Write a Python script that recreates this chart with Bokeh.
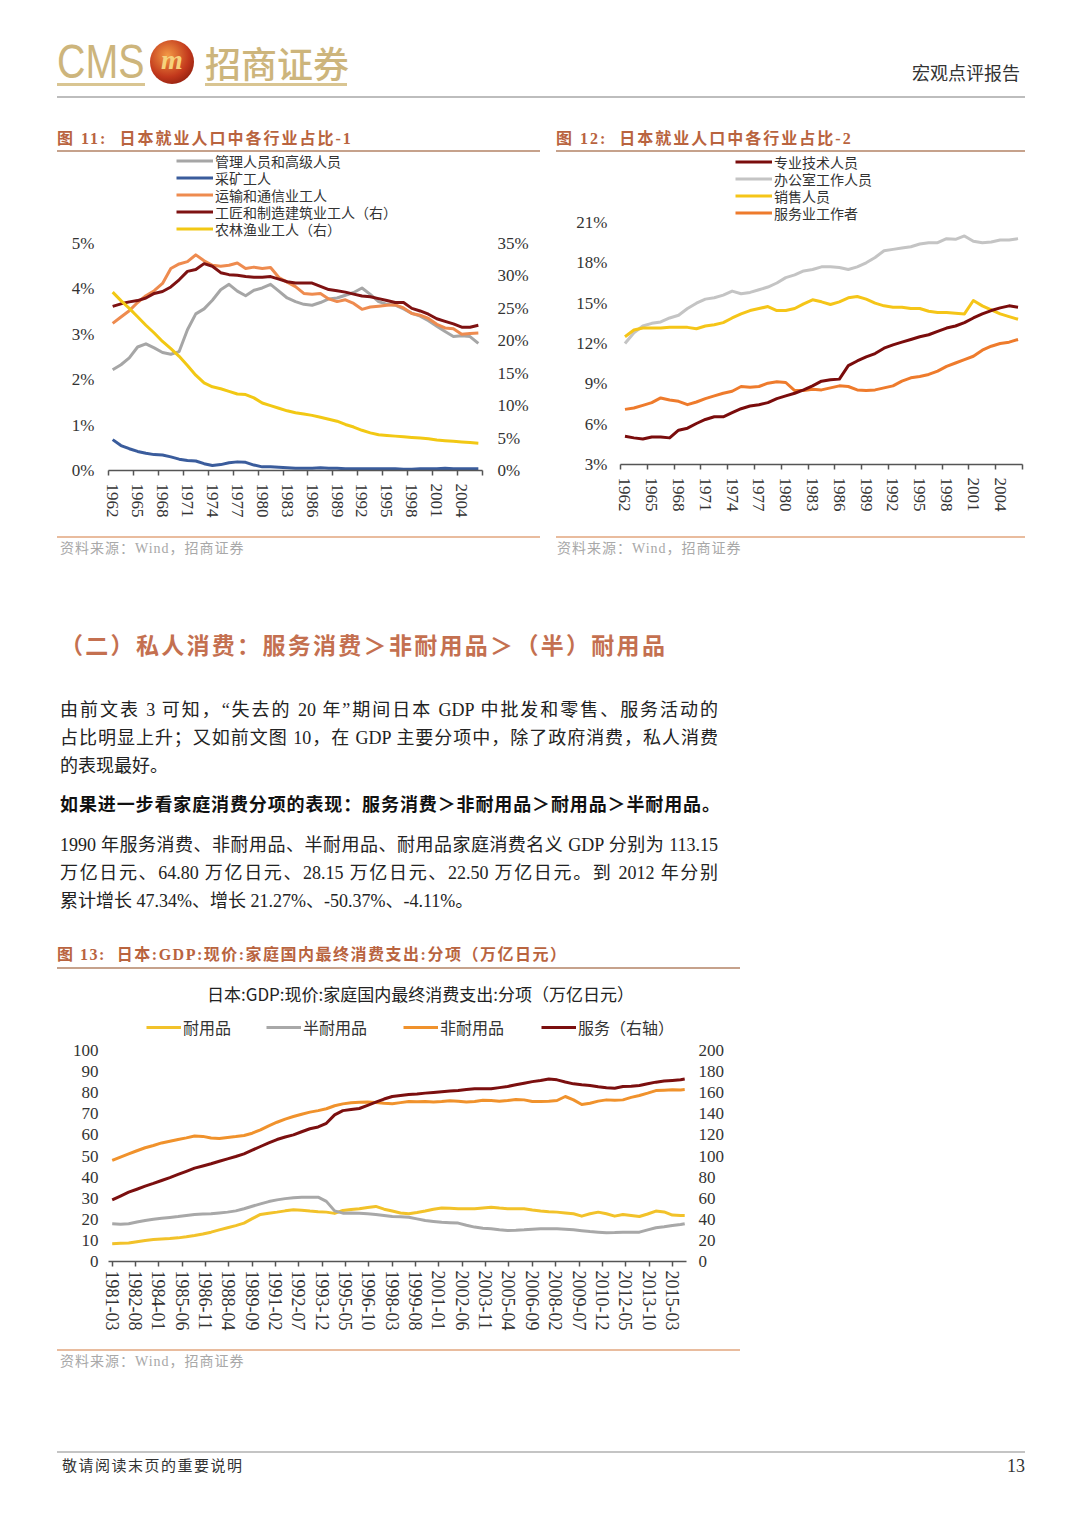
from bokeh.plotting import figure
from bokeh.models import (Range1d, LinearAxis, FixedTicker, PrintfTickFormatter,
                          Legend, LegendItem, Label, Div, Spacer)
from bokeh.layouts import column, row
from bokeh.embed import file_html
from bokeh.resources import INLINE

# ---------------- data: figure 11 ----------------
years = [1962, 1963, 1964, 1965, 1966, 1967, 1968, 1969, 1970, 1971,
         1972, 1973, 1974, 1975, 1976, 1977, 1978, 1979, 1980, 1981,
         1982, 1983, 1984, 1985, 1986, 1987, 1988, 1989, 1990, 1991,
         1992, 1993, 1994, 1995, 1996, 1997, 1998, 1999, 2000, 2001,
         2002, 2003, 2004, 2005, 2006]
year_ticks = [1962, 1965, 1968, 1971, 1974, 1977, 1980, 1983, 1986, 1989,
              1992, 1995, 1998, 2001, 2004]

f11_labels = ["管理人员和高级人员", "采矿工人", "运输和通信业工人",
              "工匠和制造建筑业工人（右）", "农林渔业工人（右）"]
f11_managers = [2.22, 2.33, 2.48, 2.72, 2.79, 2.70, 2.60, 2.56, 2.62, 3.10,
                3.45, 3.56, 3.75, 3.98, 4.10, 3.95, 3.85, 3.97, 4.02, 4.10,
                3.95, 3.80, 3.72, 3.66, 3.64, 3.70, 3.78, 3.80, 3.86, 3.92,
                4.02, 3.88, 3.72, 3.66, 3.64, 3.56, 3.46, 3.40, 3.30, 3.18,
                3.06, 2.95, 2.97, 2.95, 2.80]
f11_mining = [0.68, 0.55, 0.48, 0.42, 0.38, 0.35, 0.34, 0.30, 0.25, 0.22,
              0.21, 0.15, 0.11, 0.13, 0.17, 0.19, 0.18, 0.12, 0.08, 0.08,
              0.07, 0.06, 0.05, 0.05, 0.05, 0.06, 0.05, 0.05, 0.04, 0.04,
              0.04, 0.04, 0.04, 0.04, 0.04, 0.03, 0.03, 0.04, 0.04, 0.04,
              0.05, 0.04, 0.04, 0.04, 0.04]
f11_transport = [3.24, 3.38, 3.52, 3.70, 3.85, 3.96, 4.12, 4.45, 4.55, 4.60,
                 4.75, 4.62, 4.52, 4.50, 4.52, 4.57, 4.45, 4.48, 4.45, 4.47,
                 4.25, 4.15, 4.05, 3.90, 3.88, 3.90, 3.78, 3.72, 3.76, 3.68,
                 3.55, 3.60, 3.62, 3.64, 3.65, 3.58, 3.46, 3.42, 3.35, 3.22,
                 3.14, 3.12, 3.00, 3.02, 3.03]
f11_craft_r = [25.3, 25.7, 26.0, 26.2, 26.6, 27.3, 27.6, 28.3, 29.4, 30.7,
               31.0, 31.9, 31.5, 30.5, 30.2, 30.1, 29.9, 29.8, 29.8, 29.9,
               29.5, 29.1, 28.9, 28.9, 28.9, 28.4, 27.9, 27.7, 27.5, 27.2,
               26.9, 26.8, 26.5, 26.2, 25.9, 25.9, 25.0, 24.6, 24.1, 23.4,
               23.0, 22.6, 22.1, 22.1, 22.4]
f11_farm_r = [27.5, 26.2, 25.0, 23.7, 22.4, 21.2, 19.9, 18.8, 17.6, 16.2,
              14.7, 13.5, 12.9, 12.6, 12.2, 11.8, 11.7, 11.2, 10.4, 10.0,
              9.6, 9.2, 8.9, 8.7, 8.5, 8.2, 7.9, 7.6, 7.1, 6.7,
              6.2, 5.8, 5.5, 5.4, 5.3, 5.2, 5.1, 5.0, 4.9, 4.7,
              4.6, 4.5, 4.4, 4.3, 4.2]
f11_left_ticks = [0, 1, 2, 3, 4, 5]
f11_right_ticks = [0, 5, 10, 15, 20, 25, 30, 35]

# ---------------- data: figure 12 ----------------
f12_labels = ["专业技术人员", "办公室工作人员", "销售人员", "服务业工作者"]
f12_prof = [5.1, 4.98, 4.9, 5.05, 5.05, 4.98, 5.55, 5.7, 6.05, 6.35,
            6.55, 6.55, 6.85, 7.15, 7.35, 7.45, 7.6, 7.9, 8.1, 8.3,
            8.55, 8.85, 9.2, 9.3, 9.35, 10.35, 10.7, 11.0, 11.25, 11.65,
            11.9, 12.1, 12.3, 12.5, 12.65, 12.9, 13.15, 13.3, 13.55, 13.9,
            14.2, 14.45, 14.65, 14.8, 14.7]
f12_office = [12.0, 12.8, 13.3, 13.5, 13.6, 13.9, 14.1, 14.6, 15.0, 15.3,
              15.4, 15.6, 15.9, 15.7, 15.8, 16.0, 16.2, 16.5, 16.9, 17.1,
              17.4, 17.5, 17.7, 17.7, 17.65, 17.5, 17.7, 18.0, 18.4, 18.9,
              19.0, 19.1, 19.2, 19.4, 19.5, 19.5, 19.8, 19.75, 20.0, 19.6,
              19.5, 19.55, 19.7, 19.7, 19.8]
f12_sales = [12.5, 13.0, 13.15, 13.15, 13.15, 13.2, 13.2, 13.2, 13.1, 13.3,
             13.4, 13.55, 13.9, 14.2, 14.45, 14.6, 14.75, 14.45, 14.45, 14.6,
             14.95, 15.25, 15.1, 14.9, 15.1, 15.4, 15.5, 15.3, 15.0, 14.8,
             14.7, 14.7, 14.6, 14.6, 14.4, 14.3, 14.3, 14.25, 14.2, 15.2,
             14.8, 14.5, 14.2, 14.0, 13.8]
f12_service = [7.1, 7.2, 7.4, 7.6, 7.95, 7.8, 7.7, 7.45, 7.65, 7.9,
               8.1, 8.3, 8.45, 8.8, 8.75, 8.8, 9.05, 9.15, 9.1, 8.5,
               8.5, 8.6, 8.55, 8.7, 8.85, 8.8, 8.55, 8.5, 8.55, 8.7,
               8.85, 9.2, 9.45, 9.55, 9.7, 9.95, 10.3, 10.55, 10.8, 11.05,
               11.5, 11.8, 12.0, 12.1, 12.3]
f12_ticks = [3, 6, 9, 12, 15, 18, 21]

# ---------------- data: figure 13 ----------------
f13_title = "日本:GDP:现价:家庭国内最终消费支出:分项（万亿日元）"
f13_labels = ["耐用品", "半耐用品", "非耐用品", "服务（右轴）"]
f13_dates = ["1981-03", "1981-09", "1982-03", "1982-09", "1983-03", "1983-09",
             "1984-03", "1984-09", "1985-03", "1985-09", "1986-03", "1986-09",
             "1987-03", "1987-09", "1988-03", "1988-09", "1989-03", "1989-09",
             "1990-03", "1990-09", "1991-03", "1991-09", "1992-03", "1992-09",
             "1993-03", "1993-09", "1994-03", "1994-09", "1995-03", "1995-09",
             "1996-03", "1996-09", "1997-03", "1997-09", "1998-03", "1998-09",
             "1999-03", "1999-09", "2000-03", "2000-09", "2001-03", "2001-09",
             "2002-03", "2002-09", "2003-03", "2003-09", "2004-03", "2004-09",
             "2005-03", "2005-09", "2006-03", "2006-09", "2007-03", "2007-09",
             "2008-03", "2008-09", "2009-03", "2009-09", "2010-03", "2010-09",
             "2011-03", "2011-09", "2012-03", "2012-09", "2013-03", "2013-09",
             "2014-03", "2014-09", "2015-03", "2015-09", "2015-12"]
f13_durable = [8.4, 8.6, 8.8, 9.4, 10.0, 10.4, 10.7, 10.9, 11.2, 11.7,
               12.3, 13.0, 13.9, 15.0, 16.0, 17.0, 18.2, 20.3, 22.3, 22.9,
               23.4, 24.0, 24.5, 24.3, 23.9, 23.6, 23.4, 22.8, 24.2, 24.6,
               25.0, 25.6, 26.1, 24.8, 23.9, 23.0, 22.6, 23.2, 23.9, 24.8,
               25.4, 25.2, 25.0, 25.0, 25.0, 25.4, 25.7, 25.3, 25.0, 25.0,
               25.0, 24.4, 23.9, 23.6, 23.4, 23.0, 22.6, 21.5, 22.6, 23.4,
               22.6, 21.5, 22.3, 21.8, 21.3, 22.5, 23.9, 23.5, 22.0, 21.8,
               21.8]
f13_semi = [17.9, 17.7, 17.9, 18.7, 19.4, 20.0, 20.5, 20.9, 21.3, 21.8,
            22.3, 22.5, 22.6, 23.0, 23.4, 24.0, 25.0, 26.2, 27.3, 28.4,
            29.2, 29.8, 30.2, 30.4, 30.5, 30.5, 28.5, 24.0, 22.9, 23.0,
            22.9, 22.6, 22.3, 21.8, 21.3, 21.2, 21.0, 20.2, 19.4, 19.0,
            18.6, 18.4, 18.2, 17.2, 16.3, 15.8, 15.5, 15.0, 14.7, 14.8,
            15.0, 15.3, 15.5, 15.5, 15.5, 15.3, 15.0, 14.6, 14.2, 13.9,
            13.6, 13.7, 13.9, 13.9, 13.9, 15.0, 16.0, 16.5, 17.1, 17.5,
            17.9]
f13_nondurable = [47.9, 49.5, 51.0, 52.5, 53.9, 55.0, 56.2, 57.0, 57.8, 58.6,
                  59.5, 59.3, 58.5, 58.3, 58.8, 59.2, 59.7, 60.8, 62.4, 64.3,
                  66.0, 67.5, 68.7, 69.8, 70.8, 71.5, 72.4, 73.8, 74.7, 75.2,
                  75.5, 75.6, 75.4, 75.0, 74.8, 75.3, 75.8, 75.7, 75.8, 75.6,
                  75.8, 76.2, 76.0, 75.6, 75.8, 76.4, 76.3, 76.0, 76.3, 76.8,
                  76.6, 75.8, 75.8, 76.0, 76.3, 78.2, 76.6, 74.4, 75.0, 76.0,
                  76.6, 76.4, 76.6, 77.8, 78.7, 79.8, 81.0, 81.2, 81.4, 81.3,
                  81.5]
f13_services_r = [58.5, 62.0, 65.7, 68.5, 71.4, 74.0, 76.8, 79.5, 82.5, 85.5,
                  88.5, 90.5, 92.6, 95.0, 97.3, 99.5, 102.0, 105.5, 109.0, 112.5,
                  115.6, 118.0, 120.0, 123.0, 125.8, 127.5, 131.0, 139.0, 143.0, 144.0,
                  145.0, 148.0, 151.0, 154.0, 156.4, 157.3, 158.3, 158.8, 159.6, 160.3,
                  161.0, 161.5, 162.0, 163.0, 163.7, 163.7, 163.7, 164.8, 165.9, 167.5,
                  169.0, 170.5, 171.6, 173.0, 172.2, 170.2, 168.4, 167.5, 166.8, 165.6,
                  164.6, 164.3, 165.9, 166.2, 166.8, 168.5, 170.0, 171.0, 171.6, 172.3,
                  173.0]
f13_tick_labels = ["1981-03", "1982-08", "1984-01", "1985-06", "1986-11", "1988-04",
                   "1989-09", "1991-02", "1992-07", "1993-12", "1995-05", "1996-10",
                   "1998-03", "1999-08", "2001-01", "2002-06", "2003-11", "2005-04",
                   "2006-09", "2008-02", "2009-07", "2010-12", "2012-05", "2013-10",
                   "2015-03"]
f13_left_ticks = [0, 10, 20, 30, 40, 50, 60, 70, 80, 90, 100]
f13_right_ticks = [0, 20, 40, 60, 80, 100, 120, 140, 160, 180, 200]

# ---------------- styling ----------------
SERIF = "Liberation Serif"
CJK = "Noto Sans CJK SC"
AX = "#333333"


def month_index(s):
    y, m = s.split("-")
    return (int(y) - 1981) * 12 + int(m) - 3


def style_axis(ax, size="17px"):
    ax.major_label_text_font = SERIF
    ax.major_label_text_font_size = size
    ax.major_label_text_color = AX


def base_fig(w, h, xr, yr, bl, br, bt, bb):
    p = figure(width=w, height=h, x_range=xr, y_range=yr, output_backend="svg",
               toolbar_location=None, min_border_left=bl, min_border_right=br,
               min_border_top=bt, min_border_bottom=bb)
    p.outline_line_color = None
    p.grid.visible = False
    p.background_fill_color = "white"
    p.border_fill_color = "white"
    return p


def yaxis_clean(ax):
    ax.axis_line_color = None
    ax.major_tick_line_color = None
    ax.minor_tick_line_color = None
    ax.major_tick_out = 0
    ax.major_tick_in = 0
    ax.minor_tick_out = 0
    ax.minor_tick_in = 0


def year_xaxis(ax):
    ax.ticker = FixedTicker(ticks=year_ticks,
                            minor_ticks=[t - 0.5 for t in year_ticks] + [year_ticks[-1] + 2.5])
    ax.major_label_overrides = {t: str(t) for t in year_ticks}
    ax.major_label_orientation = "vertical"
    ax.major_tick_line_color = None
    ax.major_tick_out = 0
    ax.major_tick_in = 0
    ax.minor_tick_out = 5
    ax.minor_tick_in = 0
    ax.minor_tick_line_color = "#555555"
    ax.minor_tick_line_width = 1.5
    ax.axis_line_color = "#555555"
    ax.axis_line_width = 1.5
    ax.major_label_standoff = 8
    style_axis(ax)


def add_item(p, label, renderer, x, y_center, frame_bottom, frame_left,
             item_h=17, glyph_w=37, font="14px"):
    """One legend entry, placed by its centre line (page pixels -> frame pixels)."""
    lg = Legend(items=[LegendItem(label=label, renderers=[renderer])],
                location=(x - frame_left, frame_bottom - (y_center + item_h / 2)))
    lg.background_fill_alpha = 0
    lg.border_line_color = None
    lg.padding = 0
    lg.margin = 0
    lg.spacing = 0
    lg.glyph_width = glyph_w
    lg.glyph_height = item_h
    lg.label_height = item_h
    lg.label_standoff = 2
    lg.label_text_font = CJK
    lg.label_text_font_size = font
    lg.label_text_color = "#333333"
    p.add_layout(lg)


ROW_TOP = 152
BORDER_B = 64  # the two side-by-side plots share their bottom border

# ---------------- figure 11 ----------------
# frame spans page y 152..470; the 5% line sits at y=243, so the range reaches above 5
F11_BOT, F11_5 = 470, 243
k11 = (F11_BOT - ROW_TOP) / (F11_BOT - F11_5)
p1 = base_fig(483, F11_BOT + BORDER_B - ROW_TOP, Range1d(1961.5, 2006.5), Range1d(0, 5 * k11),
              51, 58, 0, BORDER_B)
p1.extra_y_ranges = {"r": Range1d(0, 35 * k11)}
year_xaxis(p1.xaxis[0])
ly = p1.yaxis[0]
ly.ticker = FixedTicker(ticks=f11_left_ticks)
ly.formatter = PrintfTickFormatter(format="%d%%")
yaxis_clean(ly)
ly.major_label_standoff = 14
style_axis(ly)
ry = LinearAxis(y_range_name="r", ticker=FixedTicker(ticks=f11_right_ticks),
                formatter=PrintfTickFormatter(format="%d%%"))
yaxis_clean(ry)
ry.major_label_standoff = 15
style_axis(ry)
p1.add_layout(ry, "right")

c11 = ["#A6A6A6", "#3A5C9C", "#EE8B4F", "#7E1212", "#F2C814"]
r11a = p1.line(years, f11_managers, line_color=c11[0], line_width=3, line_join="round")
r11b = p1.line(years, f11_mining, line_color=c11[1], line_width=3, line_join="round")
r11c = p1.line(years, f11_transport, line_color=c11[2], line_width=3, line_join="round")
r11d = p1.line(years, f11_craft_r, line_color=c11[3], line_width=3, line_join="round", y_range_name="r")
r11e = p1.line(years, f11_farm_r, line_color=c11[4], line_width=3, line_join="round", y_range_name="r")
for lab, r, yc in zip(f11_labels, [r11a, r11b, r11c, r11d, r11e], [162, 179, 196, 213, 230]):
    add_item(p1, lab, r, 176, yc, F11_BOT, 108)

# ---------------- figure 12 ----------------
F12_BOT, F12_21 = 464, 222
k12 = (F12_BOT - ROW_TOP) / (F12_BOT - F12_21)
p2 = base_fig(469, F12_BOT + BORDER_B - ROW_TOP, Range1d(1961.5, 2006.5), Range1d(3, 3 + 18 * k12),
              64, 3, 0, BORDER_B)
year_xaxis(p2.xaxis[0])
ly2 = p2.yaxis[0]
ly2.ticker = FixedTicker(ticks=f12_ticks)
ly2.formatter = PrintfTickFormatter(format="%d%%")
yaxis_clean(ly2)
ly2.major_label_standoff = 13
style_axis(ly2)
c12 = ["#7A0C0C", "#C4C4C4", "#F5C518", "#EE7B2C"]
r12b = p2.line(years, f12_office, line_color=c12[1], line_width=3, line_join="round")
r12c = p2.line(years, f12_sales, line_color=c12[2], line_width=3, line_join="round")
r12d = p2.line(years, f12_service, line_color=c12[3], line_width=3, line_join="round")
r12a = p2.line(years, f12_prof, line_color=c12[0], line_width=3, line_join="round")
for lab, r, yc in zip(f12_labels, [r12a, r12b, r12c, r12d], [163, 180, 197, 214]):
    add_item(p2, lab, r, 735, yc, F12_BOT, 620)

# ---------------- figure 13 ----------------
F13_TOP, F13_BOT, F13_100 = 978, 1261, 1050
k13 = (F13_BOT - F13_TOP) / (F13_BOT - F13_100)
m13 = [month_index(d) for d in f13_dates]
tick13 = [month_index(d) for d in f13_tick_labels]
p3 = base_fig(683, 370, Range1d(-2.7, 418.3), Range1d(0, 100 * k13), 51, 54, 2, 85)
p3.extra_y_ranges = {"r": Range1d(0, 200 * k13)}
xa3 = p3.xaxis[0]
xa3.ticker = FixedTicker(ticks=tick13)
xa3.major_label_overrides = {t: l for t, l in zip(tick13, f13_tick_labels)}
xa3.major_label_orientation = "vertical"
xa3.major_tick_out = 5
xa3.major_tick_in = 0
xa3.major_tick_line_color = "#555555"
xa3.major_tick_line_width = 1.5
xa3.minor_tick_line_color = None
xa3.axis_line_color = "#555555"
xa3.axis_line_width = 1.5
xa3.major_label_standoff = 4
style_axis(xa3, "18px")
ly3 = p3.yaxis[0]
ly3.ticker = FixedTicker(ticks=f13_left_ticks)
yaxis_clean(ly3)
ly3.major_label_standoff = 10
style_axis(ly3)
ry3 = LinearAxis(y_range_name="r", ticker=FixedTicker(ticks=f13_right_ticks))
yaxis_clean(ry3)
ry3.major_label_standoff = 12
style_axis(ry3)
p3.add_layout(ry3, "right")
c13 = ["#F2C22A", "#A8A8A8", "#F0922C", "#7B0F0F"]
r13a = p3.line(m13, f13_durable, line_color=c13[0], line_width=3, line_join="round")
r13b = p3.line(m13, f13_semi, line_color=c13[1], line_width=3, line_join="round")
r13c = p3.line(m13, f13_nondurable, line_color=c13[2], line_width=3, line_join="round")
r13d = p3.line(m13, f13_services_r, line_color=c13[3], line_width=3, line_join="round", y_range_name="r")
for lab, r, x in zip(f13_labels, [r13a, r13b, r13c, r13d], [146, 266, 403, 541]):
    add_item(p3, lab, r, x, 1028, F13_BOT, 108, item_h=22, glyph_w=35, font="16px")
p3.add_layout(Label(x=420 - 108, y=F13_BOT - 993, x_units="screen", y_units="screen", text=f13_title,
                    text_align="center", text_baseline="middle", text_font=CJK,
                    text_font_size="17px", text_color="#222222"))

# ---------------- page text (HTML) ----------------
BODY = "'Liberation Serif','Noto Sans CJK SC',serif"
TITLE_C = "#B9643F"


def txt(x, y, s, size, oy, color="#222", weight="normal", family=BODY, ls=0, extra=""):
    lh = round(size * 1.4)
    return ('<div style="position:absolute;left:%spx;top:%spx;font-size:%spx;line-height:%spx;'
            'color:%s;font-weight:%s;font-family:%s;letter-spacing:%spx;white-space:nowrap;%s">%s</div>'
            % (x, y - oy - lh / 2, size, lh, color, weight, family, ls, extra, s))


def jline(x, y, w, s, size, oy, weight="normal", color="#222"):
    lh = round(size * 1.4)
    return ('<div style="position:absolute;left:%spx;top:%spx;width:%spx;font-size:%spx;line-height:%spx;'
            'color:%s;font-weight:%s;font-family:%s;text-align:justify;text-align-last:justify;'
            'white-space:nowrap;">%s</div>' % (x, y - oy - lh / 2, w, size, lh, color, weight, BODY, s))


def hline(x0, x1, y, color, th, oy):
    return ('<div style="position:absolute;left:%spx;top:%spx;width:%spx;height:%spx;background:%s"></div>'
            % (x0, y - oy - th / 2, x1 - x0, th, color))


def block(parts, h):
    return '<div style="position:relative;width:1072px;height:%spx;overflow:hidden">%s</div>' % (h, "".join(parts))


GOLD = "#CDB57C"
oy = 0
hdr = [
    '<div style="position:absolute;left:57px;top:38px;font-family:\'Liberation Sans\',sans-serif;'
    'font-size:48px;line-height:48px;color:%s;transform:scaleX(0.82);transform-origin:left top;">CMS</div>' % GOLD,
    '<div style="position:absolute;left:150px;top:40px;width:44px;height:44px;border-radius:50%;'
    'background:radial-gradient(circle at 40% 35%,#F39A45,#C2381C 55%,#6E0E06);'
    'color:#F6D27C;font-family:\'Liberation Serif\',serif;font-style:italic;font-weight:bold;'
    'font-size:28px;line-height:40px;text-align:center;">m</div>',
    txt(205, 62, "招商证券", 36, oy, color=GOLD, weight="500", family="'Noto Sans CJK SC'"),
    hline(57, 145, 84, "#D9C592", 3, oy),
    hline(205, 347, 84, "#D9C592", 3, oy),
    txt(912, 74, "宏观点评报告", 18, oy, color="#333"),
    hline(57, 1025, 97, "#BDBDBD", 2, oy),
    txt(57, 139, "图 11:&nbsp;&nbsp;日本就业人口中各行业占比-1", 16, oy, color=TITLE_C, weight="bold", ls=2),
    txt(556, 139, "图 12:&nbsp;&nbsp;日本就业人口中各行业占比-2", 16, oy, color=TITLE_C, weight="bold", ls=2),
    hline(57, 540, 151, "#C6A28C", 2, oy),
    hline(556, 1025, 151, "#C6A28C", 2, oy),
]
div_hdr = Div(text=block(hdr, ROW_TOP), width=1072, height=ROW_TOP, margin=0)

oy = 534
SRC = "资料来源：Wind，招商证券"
mid = [
    hline(57, 540, 537, "#E9BC9E", 2, oy),
    hline(556, 1025, 537, "#E9BC9E", 2, oy),
    txt(60, 549, SRC, 14, oy, color="#A8A8A8", ls=1),
    txt(557, 549, SRC, 14, oy, color="#A8A8A8", ls=1),
    txt(60, 647, "（二）私人消费：服务消费＞非耐用品＞（半）耐用品", 23, oy, color="#C47050", weight="bold", ls=2.3),
    jline(60, 710, 658, "由前文表 3 可知，“失去的 20 年”期间日本 GDP 中批发和零售、服务活动的", 18, oy),
    jline(60, 738, 658, "占比明显上升；又如前文图 10，在 GDP 主要分项中，除了政府消费，私人消费", 18, oy),
    txt(60, 766, "的表现最好。", 18, oy),
    jline(60, 805, 660, "如果进一步看家庭消费分项的表现：服务消费＞非耐用品＞耐用品＞半耐用品。", 18, oy, weight="bold", color="#111"),
    jline(60, 845, 658, "1990 年服务消费、非耐用品、半耐用品、耐用品家庭消费名义 GDP 分别为 113.15", 18, oy),
    jline(60, 873, 658, "万亿日元、64.80 万亿日元、28.15 万亿日元、22.50 万亿日元。到 2012 年分别", 18, oy),
    txt(60, 901, "累计增长 47.34%、增长 21.27%、-50.37%、-4.11%。", 18, oy),
    txt(57, 955, "图 13:&nbsp;&nbsp;日本:GDP:现价:家庭国内最终消费支出:分项（万亿日元）", 16, oy, color=TITLE_C, weight="bold", ls=1.5),
    hline(57, 740, 968, "#C6A28C", 2, oy),
]
div_mid = Div(text=block(mid, 442), width=1072, height=442, margin=0)

oy = 1346
foot = [
    hline(57, 740, 1350, "#E9BC9E", 2, oy),
    txt(60, 1362, SRC, 14, oy, color="#A8A8A8", ls=1),
    hline(57, 1025, 1452, "#C4C4C4", 1.5, oy),
    txt(62, 1466, "敬请阅读末页的重要说明", 15, oy, color="#333", ls=1.5),
    '<div style="position:absolute;left:925px;top:%spx;width:100px;text-align:right;font-family:\'Liberation Serif\',serif;'
    'font-size:18px;line-height:24px;color:#333;">13</div>' % (1466 - oy - 12),
]
div_foot = Div(text=block(foot, 154), width=1072, height=154, margin=0)

ROW_H = 534 - ROW_TOP
charts_row = row(Spacer(width=57, height=ROW_H, margin=0), p1,
                 Spacer(width=16, height=ROW_H, margin=0), p2, spacing=0, height=ROW_H)
fig13_row = row(Spacer(width=57, height=370, margin=0), p3, spacing=0)

page = column(div_hdr, charts_row, div_mid, fig13_row, div_foot, spacing=0)

open("out.html", "w").write(file_html(page, INLINE))
